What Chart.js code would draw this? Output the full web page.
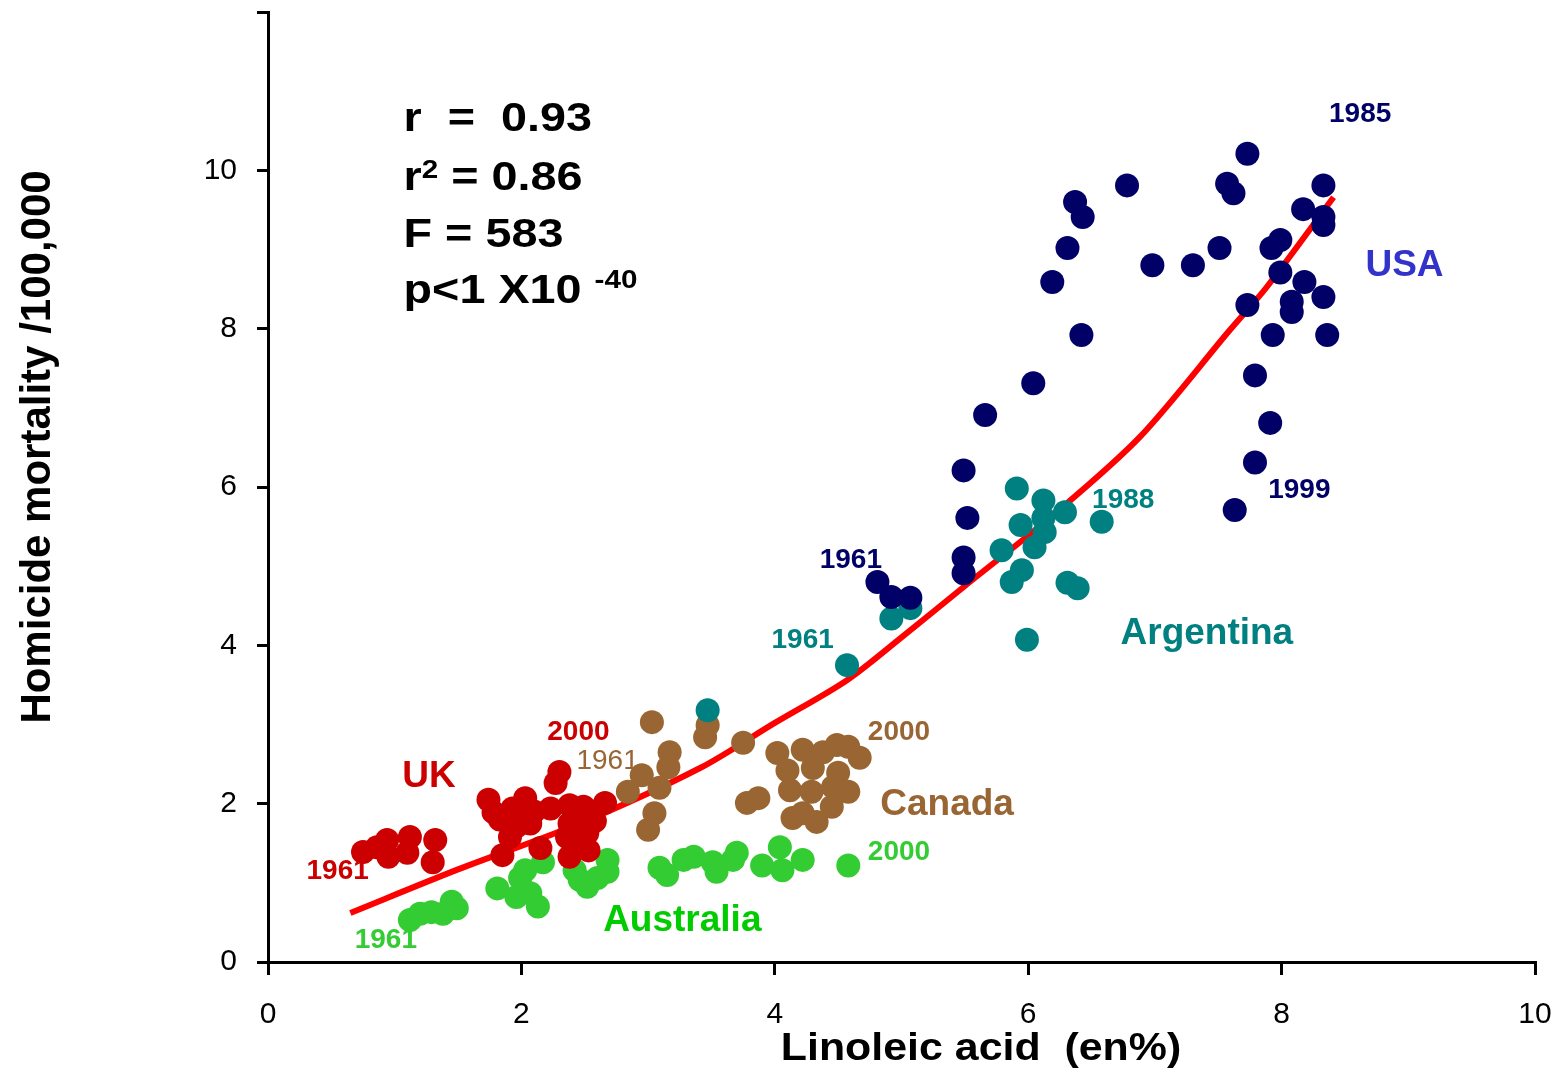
<!doctype html>
<html lang="en">
<head>
<meta charset="utf-8">
<style>
  html, body { margin: 0; padding: 0; background: #fff; }
  #wrap { width: 1559px; height: 1078px; }
</style>
<script src="https://cdn.jsdelivr.net/npm/chart.js@4.4.1/dist/chart.umd.min.js"></script>
</head>
<body>
<div id="wrap"><canvas id="chart" width="1559" height="1078"></canvas></div>
<script>
// linoleic acid (en%) vs homicide mortality per 100,000
const ukX = [0.75, 0.86, 0.94, 0.95, 1.10, 1.12, 1.32, 1.30, 1.74, 1.78, 1.83, 1.85, 1.91, 1.93, 1.96, 1.98, 2.03, 2.07, 2.10, 2.15, 2.23, 2.27, 2.30, 2.36, 2.38, 2.38, 2.38, 2.44, 2.45, 2.49, 2.52, 2.53, 2.55, 2.58, 2.66];
const ukY = [1.39, 1.45, 1.54, 1.33, 1.38, 1.58, 1.54, 1.26, 2.05, 1.89, 1.80, 1.35, 1.58, 1.94, 1.71, 1.95, 2.07, 1.75, 1.90, 1.44, 1.94, 2.26, 2.40, 1.58, 1.98, 1.75, 1.33, 1.50, 1.85, 1.96, 1.63, 1.41, 1.90, 1.78, 2.01];

const canX = [2.84, 2.95, 3.00, 3.03, 3.05, 3.09, 3.16, 3.17, 3.45, 3.47, 3.75, 3.78, 3.87, 4.02, 4.10, 4.12, 4.14, 4.22, 4.22, 4.29, 4.30, 4.33, 4.38, 4.45, 4.46, 4.49, 4.50, 4.58, 4.58, 4.67];
const canY = [2.15, 2.36, 1.67, 3.03, 1.88, 2.20, 2.46, 2.65, 2.84, 2.99, 2.77, 2.01, 2.07, 2.64, 2.42, 2.17, 1.82, 2.68, 1.88, 2.15, 2.45, 1.77, 2.65, 1.96, 2.21, 2.74, 2.39, 2.72, 2.15, 2.58];

const ausX = [1.12, 1.20, 1.29, 1.38, 1.45, 1.49, 1.81, 1.96, 1.99, 2.03, 2.07, 2.13, 2.17, 2.42, 2.46, 2.52, 2.60, 2.68, 2.68, 3.09, 3.15, 3.28, 3.36, 3.51, 3.54, 3.67, 3.70, 3.90, 4.04, 4.06, 4.22, 4.58];
const ausY = [0.53, 0.61, 0.63, 0.61, 0.76, 0.68, 0.93, 0.82, 1.06, 1.16, 0.87, 0.70, 1.26, 1.16, 1.04, 0.95, 1.06, 1.29, 1.14, 1.19, 1.10, 1.29, 1.33, 1.26, 1.14, 1.29, 1.38, 1.22, 1.45, 1.16, 1.29, 1.22];

const argX = [3.47, 4.57, 4.92, 5.07, 5.79, 5.87, 5.91, 5.94, 5.95, 5.99, 6.05, 6.12, 6.12, 6.13, 6.29, 6.31, 6.39, 6.58];
const argY = [3.18, 3.75, 4.34, 4.47, 5.20, 4.80, 5.98, 5.52, 4.95, 4.07, 5.24, 5.83, 5.61, 5.43, 5.68, 4.79, 4.72, 5.56];

const usaX = [4.81, 4.92, 5.07, 5.49, 5.52, 5.49, 5.49, 5.66, 6.04, 6.19, 6.31, 6.37, 6.43, 6.42, 6.78, 6.98, 7.30, 7.51, 7.57, 7.62, 7.63, 7.73, 7.73, 7.79, 7.79, 7.91, 7.92, 7.93, 7.99, 7.99, 8.08, 8.08, 8.17, 8.18, 8.33, 8.33, 8.33, 8.33, 8.36];
const usaY = [4.80, 4.61, 4.60, 6.21, 5.61, 5.11, 4.91, 6.91, 7.31, 8.59, 9.02, 9.60, 9.41, 7.92, 9.81, 8.80, 8.80, 9.02, 9.83, 9.71, 5.71, 10.21, 8.30, 7.41, 6.31, 6.81, 9.02, 7.92, 9.12, 8.71, 8.34, 8.21, 9.51, 8.59, 9.81, 9.41, 9.31, 8.40, 7.92];

// fitted curve, traced
const fitX = [0.65, 1.50, 2.46, 3.41, 4.00, 4.57, 5.00, 5.50, 6.20, 6.88, 7.59, 7.88, 8.41];
const fitY = [0.62, 1.17, 1.75, 2.45, 3.02, 3.56, 4.10, 4.75, 5.65, 6.63, 7.98, 8.52, 9.66];

const xTicks = [0, 2, 4, 6, 8, 10];
const yTicks = [0, 2, 4, 6, 8, 10];

const RED = '#CC0000', BROWN = '#996633', GREEN = '#33CC33', TEAL = '#008080', NAVY = '#000066';
const FONT = '"Liberation Sans", Arial, sans-serif';

function pts(xs, ys) { return xs.map((x, i) => ({ x: x, y: ys[i] })); }

function dots(label, xs, ys, color) {
  return {
    type: 'scatter', label: label, data: pts(xs, ys),
    backgroundColor: color, borderWidth: 0,
    pointRadius: 12, pointHoverRadius: 12, order: 1
  };
}

// text placed in data units
const notes = [
  { t: '1985', x: 8.62, y: 10.71, c: NAVY, s: 28, b: true },
  { t: 'USA', x: 8.97, y: 8.80, c: '#3333CC', s: 37, b: true },
  { t: '1999', x: 8.14, y: 5.96, c: NAVY, s: 28, b: true },
  { t: '1988', x: 6.75, y: 5.83, c: TEAL, s: 28, b: true },
  { t: '1961', x: 4.60, y: 5.08, c: NAVY, s: 28, b: true },
  { t: '1961', x: 4.22, y: 4.07, c: TEAL, s: 28, b: true },
  { t: 'Argentina', x: 7.41, y: 4.15, c: TEAL, s: 37, b: true },
  { t: '2000', x: 4.98, y: 2.90, c: BROWN, s: 28, b: true },
  { t: 'Canada', x: 5.36, y: 1.98, c: BROWN, s: 37, b: true },
  { t: '2000', x: 4.98, y: 1.38, c: GREEN, s: 28, b: true },
  { t: 'Australia', x: 3.27, y: 0.52, c: '#00CC00', s: 37, b: true },
  { t: '1961', x: 0.93, y: 0.28, c: GREEN, s: 28, b: true },
  { t: '1961', x: 0.55, y: 1.14, c: RED, s: 28, b: true },
  { t: 'UK', x: 1.27, y: 2.34, c: RED, s: 37, b: true },
  { t: '2000', x: 2.45, y: 2.90, c: RED, s: 28, b: true },
  { t: '1961', x: 2.68, y: 2.53, c: BROWN, s: 28, b: false }
];

const stats = [
  { y: 10.50, runs: [{ t: 'r  =  0.93', s: 41 }] },
  { y: 9.75, runs: [{ t: 'r', s: 41 }, { t: '2', s: 26, dy: -12 }, { t: ' = 0.86', s: 41 }] },
  { y: 9.03, runs: [{ t: 'F = 583', s: 41 }] },
  { y: 8.32, runs: [{ t: 'p<1 X10 ', s: 41 }, { t: '-40', s: 26, dy: -15 }] }
];

function drawRuns(ctx, runs, x, y, sx) {
  ctx.save();
  ctx.translate(x, y);
  ctx.scale(sx, 1);
  ctx.textAlign = 'left';
  ctx.textBaseline = 'alphabetic';
  let cx = 0;
  runs.forEach(r => {
    ctx.font = 'bold ' + r.s + 'px ' + FONT;
    ctx.fillText(r.t, cx, r.dy || 0);
    cx += ctx.measureText(r.t).width;
  });
  ctx.restore();
}

const annotate = {
  id: 'annotate',
  afterDraw(chart) {
    const ctx = chart.ctx, xs = chart.scales.x, ys = chart.scales.y;
    ctx.save();
    notes.forEach(n => {
      ctx.font = (n.b ? 'bold ' : '') + n.s + 'px ' + FONT;
      ctx.fillStyle = n.c;
      ctx.textAlign = 'center';
      ctx.textBaseline = 'middle';
      ctx.fillText(n.t, xs.getPixelForValue(n.x), ys.getPixelForValue(n.y));
    });
    ctx.fillStyle = '#000';
    stats.forEach(l => drawRuns(ctx, l.runs, xs.getPixelForValue(1.07), ys.getPixelForValue(l.y), 1.14));

    // axis titles
    ctx.font = 'bold 39px ' + FONT;
    ctx.textAlign = 'center';
    ctx.textBaseline = 'alphabetic';
    ctx.save();
    ctx.translate(981, 1060);
    ctx.scale(1.1, 1);
    ctx.fillText('Linoleic acid  (en%)', 0, 0);
    ctx.restore();
    ctx.save();
    ctx.font = 'bold 42px ' + FONT;
    ctx.translate(50, 447);
    ctx.rotate(-Math.PI / 2);
    ctx.fillText('Homicide mortality /100,000', 0, 0);
    ctx.restore();
    ctx.restore();
  }
};

new Chart(document.getElementById('chart'), {
  data: {
    datasets: [
      dots('USA', usaX, usaY, NAVY),
      dots('Argentina', argX, argY, TEAL),
      dots('Canada', canX, canY, BROWN),
      dots('UK', ukX, ukY, RED),
      dots('Australia', ausX, ausY, GREEN),
      {
        type: 'line', label: 'fit', data: pts(fitX, fitY),
        borderColor: '#FF0000', borderWidth: 6, pointRadius: 0,
        tension: 0.3, fill: false, order: 10
      }
    ]
  },
  options: {
    responsive: false,
    animation: false,
    events: [],
    layout: { padding: { left: 0, top: 12, right: 24, bottom: 0 } },
    plugins: { legend: { display: false }, tooltip: { enabled: false } },
    scales: {
      x: {
        type: 'linear', min: 0, max: 10,
        afterBuildTicks: s => { s.ticks = xTicks.map(v => ({ value: v })); },
        grid: { drawOnChartArea: false, drawTicks: true, tickLength: 13, color: '#000', lineWidth: 3 },
        border: { display: true, color: '#000', width: 3 },
        ticks: { color: '#000', font: { family: FONT, size: 30 }, padding: 22, maxRotation: 0 },
        afterFit: s => { s.height = 116; s.paddingRight = 0; }
      },
      y: {
        type: 'linear', min: 0, max: 12,
        afterBuildTicks: s => { s.ticks = yTicks.concat([12]).map(v => ({ value: v })); },
        grid: { drawOnChartArea: false, drawTicks: true, tickLength: 11, color: '#000', lineWidth: 3 },
        border: { display: true, color: '#000', width: 3 },
        ticks: {
          color: '#000', font: { family: FONT, size: 30 }, padding: 20,
          callback: v => (v === 12 ? '' : v)
        },
        afterFit: s => { s.width = 268; s.paddingTop = 0; s.paddingBottom = 0; }
      }
    }
  },
  plugins: [annotate]
});
</script>
</body>
</html>
